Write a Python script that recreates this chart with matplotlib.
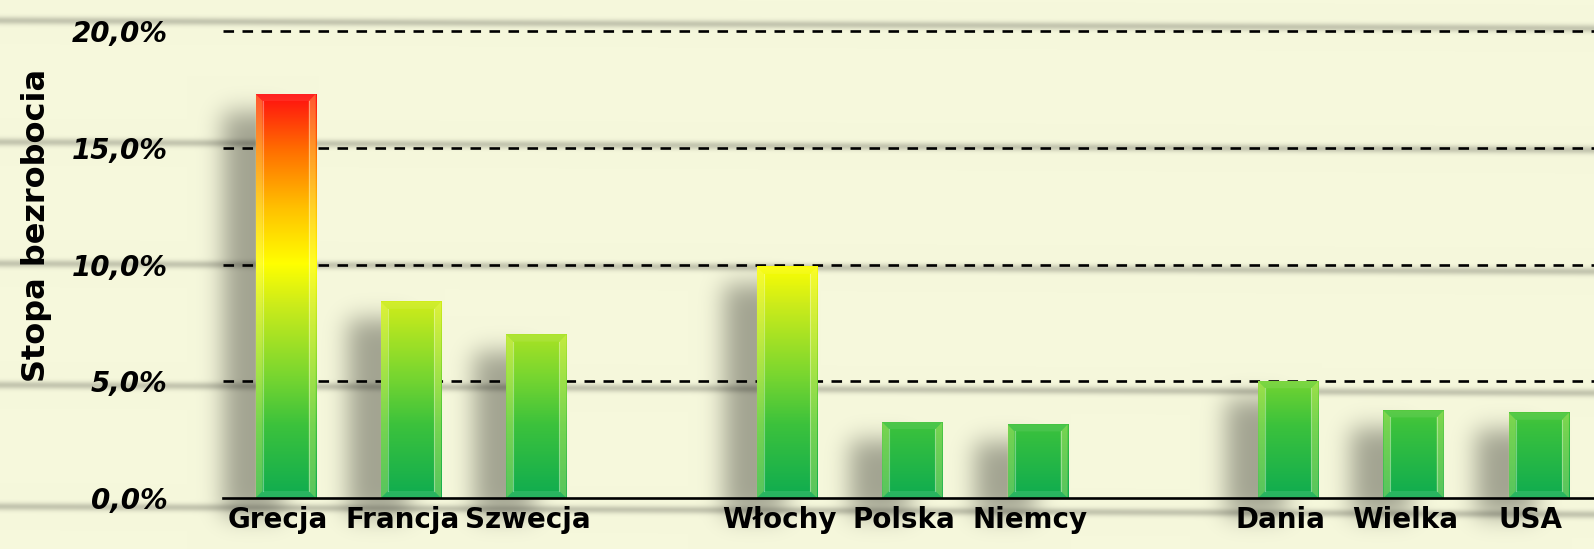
import numpy as np
import matplotlib.pyplot as plt
from matplotlib.colors import LinearSegmentedColormap, Normalize
from matplotlib.patches import Polygon
from matplotlib.transforms import ScaledTranslation

# data (unemployment rate, %)
groups = [
    ["Grecja", "Francja", "Szwecja"],
    ["Włochy", "Polska", "Niemcy"],
    ["Dania", "Wielka", "USA"],
]
rates = [
    [17.3, 8.4, 7.0],
    [9.9, 3.25, 3.15],
    [5.0, 3.75, 3.65],
]
y_ticks = [0, 5, 10, 15, 20]
y_tick_labels = ["0,0%", "5,0%", "10,0%", "15,0%", "20,0%"]
y_title = "Stopa bezrobocia"

W, H = 1594, 549
bg = np.array([246, 248, 220]) / 255.0

# value -> colour (green, yellow, red)
cmap = LinearSegmentedColormap.from_list("heat", [
    (0.00, "#0fac50"), (0.18, "#3cc23c"), (0.30, "#78d630"),
    (0.48, "#cdec1a"), (0.58, "#ffff00"), (0.72, "#ffc000"),
    (0.86, "#ff7000"), (1.00, "#ff1010")])
norm = Normalize(0, 17.3)

# positions: a blank slot between groups
xs, names, vals = [], [], []
for g, (grp, rr) in enumerate(zip(groups, rates)):
    for i, (n, v) in enumerate(zip(grp, rr)):
        xs.append(g * (len(grp) + 1) + i)
        names.append(n)
        vals.append(v)

fig = plt.figure(figsize=(W / 100, H / 100), dpi=100)
fig.patch.set_facecolor(bg)

ppu = 23.35  # pixels per percent
ytop = 20.25
ax = fig.add_axes([223 / W, (H - 498) / H, (W - 223) / W, ytop * ppu / H])
ax.set_facecolor("none")
ax.set_zorder(1)
ax.set_xlim(-0.5, 10.44)
ax.set_ylim(0, ytop)

bw = 0.48
bars = ax.bar(xs, vals, width=bw, color="none", edgecolor="none", zorder=3)

# bevel size in data units
px_x = ax.transData.transform([(1, 0)])[0][0] - ax.transData.transform([(0, 0)])[0][0]
bx, by = 7 / px_x, 7 / ppu

grad = np.linspace(0, 1, 256)[:, None]
for b, v in zip(bars, vals):
    L, R, T = b.get_x(), b.get_x() + b.get_width(), v
    ax.imshow(grad * v, cmap=cmap, norm=norm, origin="lower", aspect="auto",
              extent=[L, R, 0, T], zorder=3, interpolation="bilinear")
    for poly, c, a in [
        ([(L, 0), (L + bx, by), (L + bx, T - by), (L, T)], "#ffff80", 0.30),
        ([(R, 0), (R - bx, by), (R - bx, T - by), (R, T)], "#ffff80", 0.30),
        ([(L, T), (L + bx, T - by), (R - bx, T - by), (R, T)], "white", 0.08),
        ([(L, 0), (L + bx, by), (R - bx, by), (R, 0)], "white", 0.10),
    ]:
        ax.add_patch(Polygon(poly, closed=True, facecolor=c, alpha=a, edgecolor="none", zorder=4))
    ax.plot([L + bx, L + bx], [by, T - by], color="white", alpha=0.35, lw=0.8, zorder=4)
    ax.plot([R - bx, R - bx], [by, T - by], color="white", alpha=0.35, lw=0.8, zorder=4)
ax.set_xlim(-0.5, 10.44)
ax.set_ylim(0, ytop)

for t in y_ticks[1:]:
    ax.axhline(t, color="black", lw=1.9, linestyle=(0, (4.0, 3.2)), zorder=2)

for s in ["top", "right", "left"]:
    ax.spines[s].set_visible(False)
ax.spines["bottom"].set_linewidth(1.9)
ax.spines["bottom"].set_zorder(5)

ax.set_yticks(y_ticks)
ax.set_yticklabels(y_tick_labels, fontsize=20, style="italic", weight="bold")
ax.set_xticks(xs)
ax.set_xticklabels(names, fontsize=20, weight="bold")
ax.tick_params(axis="y", length=0, pad=40)
ax.tick_params(axis="x", length=0, pad=6)
shift = ScaledTranslation(-8 / 100, 0, fig.dpi_scale_trans)
for lab in ax.get_xticklabels():
    lab.set_transform(lab.get_transform() + shift)
fig.text(37 / W, 1 - 225 / H, y_title, rotation=90, fontsize=23,
         weight="bold", ha="center", va="center")

# background: notebook lines + blurred drop shadows of the bars
def blur(a, s):
    r = int(3 * s)
    k = np.exp(-0.5 * (np.arange(-r, r + 1) / s) ** 2)
    k /= k.sum()
    a = np.apply_along_axis(lambda v: np.convolve(v, k, "same"), 0, a)
    return np.apply_along_axis(lambda v: np.convolve(v, k, "same"), 1, a)

yy, xx = np.mgrid[0:H, 0:W]
lines = np.zeros((H, W))
for i in range(5):
    yl = 20 + 121.5 * i + 8 * xx / W
    lines = np.maximum(lines, np.exp(-0.5 * ((yy - yl) / 2.8) ** 2))

shadow = np.zeros((H, W))
for b, v in zip(bars, vals):
    (x0, y0), (x1, y1) = ax.transData.transform([(b.get_x(), 0), (b.get_x() + b.get_width(), v)])
    c0, c1 = int(x0) - 32, int(x1) - 32
    r0, r1 = int(H - y1) + 18, int(H - y0) + 18
    shadow[max(r0, 0):min(r1, H), max(c0, 0):min(c1, W)] = 1
shadow = blur(shadow, 12)

fac = (1 - 0.20 * lines) * (1 - 0.34 * shadow)
img = bg[None, None, :] * fac[:, :, None]
fig.figimage(np.clip(img, 0, 1), xo=0, yo=0, origin="upper", zorder=0)

fig.savefig("out.png", dpi=100, facecolor=bg)
